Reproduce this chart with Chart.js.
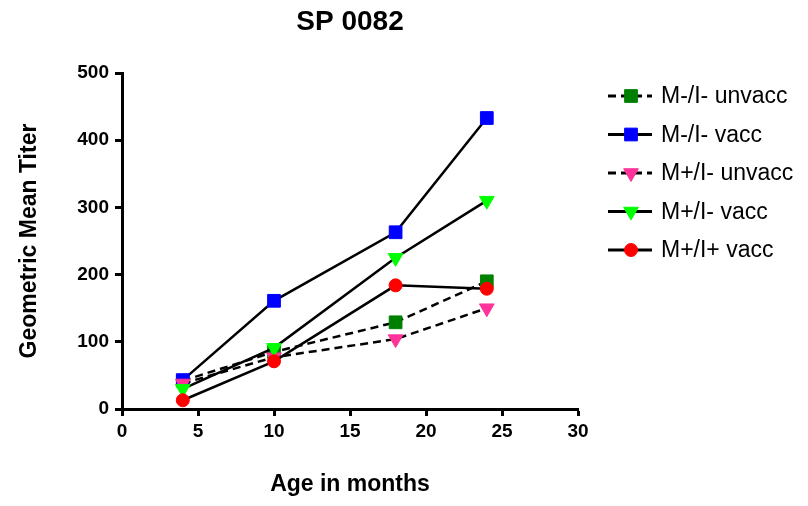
<!DOCTYPE html>
<html>
<head>
<meta charset="utf-8">
<script src="https://cdn.jsdelivr.net/npm/chart.js@4.4.1/dist/chart.umd.min.js"></script>
<style>
  html, body { margin: 0; padding: 0; background: #fff; }
  #wrap { width: 808px; height: 506px; }
</style>
</head>
<body>
<div id="wrap"><canvas id="myChart"></canvas></div>
<script>
// data
const ages = [4, 10, 18, 24];
const seriesNames = ['M-/I- unvacc', 'M-/I- vacc', 'M+/I- unvacc', 'M+/I- vacc', 'M+/I+ vacc'];
const mNegUnvacc = [42, 85, 129, 190];
const mNegVacc = [43, 161, 263, 433];
const mPosUnvacc = [38, 77, 104, 150];
const mPosVacc = [30, 91, 225, 310];
const mPosIPosVacc = [13, 71, 184, 179];
const xTicks = [0, 5, 10, 15, 20, 25, 30];
const yTicks = [0, 100, 200, 300, 400, 500];

const FONT = "'Liberation Sans', Arial, sans-serif";

function points(values) {
    return ages.map((a, i) => ({ x: a, y: values[i] }));
}

function series(label, values, color, style, dashed, order) {
    return {
        label: label,
        data: points(values),
        borderColor: '#000',
        borderWidth: 2.5,
        borderDash: dashed ? [8, 5] : [],
        pointStyle: style,
        pointRadius: style === 'rect' ? 9 : (style === 'circle' ? 6.5 : 8.5),
        pointRotation: style === 'triangle' ? 180 : 0,
        pointBackgroundColor: color,
        pointBorderColor: color,
        pointBorderWidth: 1,
        fill: false,
        tension: 0,
        order: order,
    };
}

const datasets = [
    series(seriesNames[0], mNegUnvacc, '#008000', 'rect', true, 5),
    series(seriesNames[1], mNegVacc, '#0000ff', 'rect', false, 4),
    series(seriesNames[2], mPosUnvacc, '#ff3399', 'triangle', true, 3),
    series(seriesNames[3], mPosVacc, '#00ff00', 'triangle', false, 2),
    series(seriesNames[4], mPosIPosVacc, '#ff0000', 'circle', false, 1),
];

// legend on the right, drawn like the original (line sample + marker)
const sideLegend = {
    id: 'sideLegend',
    afterDraw(chart) {
        const ctx = chart.ctx;
        chart.data.datasets.forEach((ds, i) => {
            const y = 96 + i * 38.5;
            ctx.save();
            ctx.strokeStyle = '#000';
            ctx.lineWidth = 3;
            ctx.setLineDash(ds.borderDash);
            ctx.beginPath();
            ctx.moveTo(608, y);
            ctx.lineTo(652, y);
            ctx.stroke();
            ctx.setLineDash([]);
            ctx.fillStyle = ds.pointBackgroundColor;
            ctx.strokeStyle = ds.pointBorderColor;
            ctx.lineWidth = 1;
            Chart.helpers.drawPoint(ctx, {
                pointStyle: ds.pointStyle,
                radius: ds.pointRadius,
                rotation: ds.pointRotation,
                borderWidth: 1,
            }, 631, y);
            ctx.fillStyle = '#000';
            ctx.font = '23px ' + FONT;
            ctx.textBaseline = 'middle';
            ctx.fillText(ds.label, 661, y + 1);
            ctx.restore();
        });
    }
};

const axisLook = {
    border: { color: '#000', width: 3 },
    grid: { drawOnChartArea: false, drawTicks: true, tickLength: 7, tickWidth: 3, tickColor: '#000' },
};

new Chart(document.getElementById('myChart').getContext('2d'), {
    type: 'line',
    data: { datasets: datasets },
    plugins: [sideLegend],
    options: {
        responsive: true,
        maintainAspectRatio: false,
        animation: false,
        layout: { padding: { top: 0, right: 230, bottom: 0, left: 0 } },
        plugins: {
            legend: { display: false },
            tooltip: { enabled: false },
            title: {
                display: true,
                fullSize: false,
                text: 'SP 0082',
                color: '#000',
                font: { family: FONT, size: 28, weight: 'bold', lineHeight: 1.2 },
                padding: { top: 5, bottom: 34.4 },
            },
        },
        scales: {
            x: {
                type: 'linear',
                min: 0,
                max: 30,
                ...axisLook,
                afterBuildTicks: s => { s.ticks = xTicks.map(v => ({ value: v })); },
                afterFit: s => { s.height = 97; },
                ticks: { color: '#000', padding: 4, font: { family: FONT, size: 19, weight: 'bold' } },
                title: {
                    display: true,
                    text: 'Age in months',
                    color: '#000',
                    font: { family: FONT, size: 23, weight: 'bold' },
                    padding: { top: 0, bottom: 8 },
                },
            },
            y: {
                type: 'linear',
                min: 0,
                max: 500,
                ...axisLook,
                afterBuildTicks: s => { s.ticks = yTicks.map(v => ({ value: v })); },
                afterFit: s => { s.width = 122; },
                ticks: { color: '#000', padding: 6, font: { family: FONT, size: 19, weight: 'bold' } },
                title: {
                    display: true,
                    text: 'Geometric Mean Titer',
                    color: '#000',
                    font: { family: FONT, size: 23, weight: 'bold' },
                    padding: { top: 16, bottom: 0 },
                },
            },
        },
    },
});
</script>
</body>
</html>
